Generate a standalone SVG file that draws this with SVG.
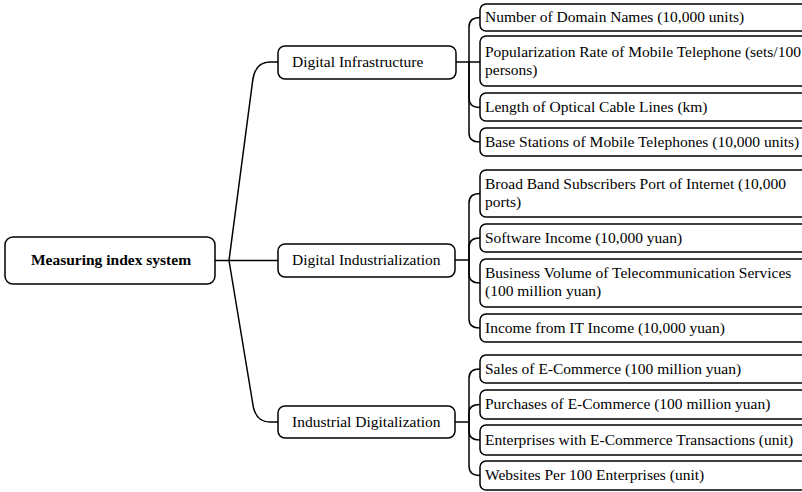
<svg xmlns="http://www.w3.org/2000/svg" width="802" height="492" viewBox="0 0 802 492">
<style>
.box{fill:#fff;stroke:#000;stroke-width:1.5}
.t{font-family:"Liberation Serif","Times New Roman",serif;font-size:15.5px;fill:#000}
.b{font-weight:bold}
.c{fill:none;stroke:#000;stroke-width:1.5}
</style>
<rect width="802" height="492" fill="#fff"/>
<g id="connectors">
<path class="c" d="M215,260.5 H278"/>
<path class="c" d="M229,260.5 L252.5,82 C254,68 260,62 270,62 H278"/>
<path class="c" d="M229,260.5 L252.5,402 C254,416 260,422 270,422 H278"/>
<path class="c" d="M456,62 H480"/>
<path class="c" d="M469,62 V27 Q469,17.5 480,17.5"/>
<path class="c" d="M469,62 V98 Q469,107.5 480,107.5"/>
<path class="c" d="M469,62 V133 Q469,142 480,142"/>
<path class="c" d="M455,260 H469"/>
<path class="c" d="M469,260 V203 Q469,193.5 480,193.5"/>
<path class="c" d="M469,260 V247 Q469,238 480,238"/>
<path class="c" d="M469,260 V274 Q469,283 480,283"/>
<path class="c" d="M469,260 V319 Q469,328 480,328"/>
<path class="c" d="M455,422 H469"/>
<path class="c" d="M469,422 V378 Q469,369 480,369"/>
<path class="c" d="M469,422 V413 Q469,404.5 480,404.5"/>
<path class="c" d="M469,422 V431 Q469,440 480,440"/>
<path class="c" d="M469,422 V466 Q469,475.5 480,475.5"/>
</g>
<g id="root">
<rect class="box" x="5" y="237" width="210" height="47" rx="8"/>
<text class="t b" x="111" y="265" text-anchor="middle">Measuring index system</text>
</g>
<g id="digital-infrastructure">
<rect class="box" x="278" y="46" width="178" height="33" rx="7"/>
<text class="t" x="292" y="66.5">Digital Infrastructure</text>
</g>
<g id="digital-industrialization">
<rect class="box" x="278" y="244" width="177" height="33" rx="7"/>
<text class="t" x="292" y="264.5">Digital Industrialization</text>
</g>
<g id="industrial-digitalization">
<rect class="box" x="278" y="406" width="177" height="32" rx="7"/>
<text class="t" x="292" y="426.5">Industrial Digitalization</text>
</g>
<g id="n1">
<rect class="box" x="480" y="4" width="340" height="27" rx="6"/>
<text class="t" x="485" y="21.5">Number of Domain Names (10,000 units)</text>
</g>
<g id="n2">
<rect class="box" x="480" y="36" width="340" height="50" rx="6"/>
<text class="t" x="485" y="56.5">Popularization Rate of Mobile Telephone (sets/100</text>
<text class="t" x="485" y="75">persons)</text>
</g>
<g id="n3">
<rect class="box" x="480" y="93" width="340" height="28" rx="6"/>
<text class="t" x="485" y="111.5">Length of Optical Cable Lines (km)</text>
</g>
<g id="n4">
<rect class="box" x="480" y="128" width="340" height="28" rx="6"/>
<text class="t" x="485" y="146.5">Base Stations of Mobile Telephones (10,000 units)</text>
</g>
<g id="n5">
<rect class="box" x="480" y="170" width="340" height="47" rx="6"/>
<text class="t" x="485" y="188.5">Broad Band Subscribers Port of Internet (10,000</text>
<text class="t" x="485" y="207">ports)</text>
</g>
<g id="n6">
<rect class="box" x="480" y="224" width="340" height="28" rx="6"/>
<text class="t" x="485" y="242.5">Software Income (10,000 yuan)</text>
</g>
<g id="n7">
<rect class="box" x="480" y="259" width="340" height="48" rx="6"/>
<text class="t" x="485" y="277.5">Business Volume of Telecommunication Services</text>
<text class="t" x="485" y="296">(100 million yuan)</text>
</g>
<g id="n8">
<rect class="box" x="480" y="314" width="340" height="28" rx="6"/>
<text class="t" x="485" y="332.5">Income from IT Income (10,000 yuan)</text>
</g>
<g id="n9">
<rect class="box" x="480" y="355" width="340" height="28" rx="6"/>
<text class="t" x="485" y="373.5">Sales of E-Commerce (100 million yuan)</text>
</g>
<g id="n10">
<rect class="box" x="480" y="390" width="340" height="29" rx="6"/>
<text class="t" x="485" y="409">Purchases of E-Commerce (100 million yuan)</text>
</g>
<g id="n11">
<rect class="box" x="480" y="425" width="340" height="30" rx="6"/>
<text class="t" x="485" y="444.5">Enterprises with E-Commerce Transactions (unit)</text>
</g>
<g id="n12">
<rect class="box" x="480" y="461" width="340" height="29" rx="6"/>
<text class="t" x="485" y="480">Websites Per 100 Enterprises (unit)</text>
</g>
</svg>
